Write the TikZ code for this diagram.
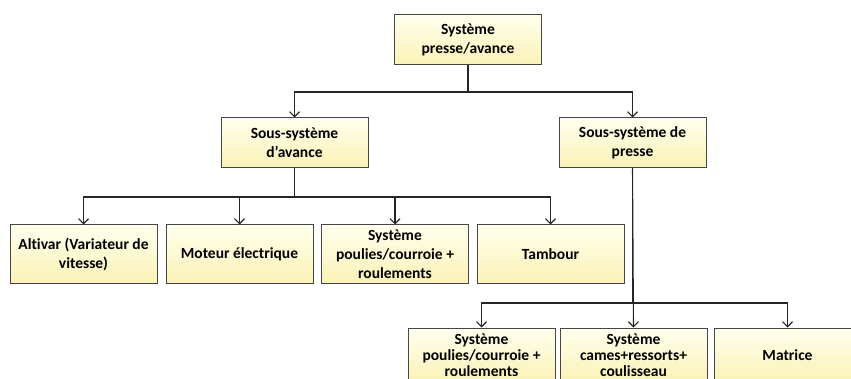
\documentclass[tikz,border=0pt]{standalone}
\usepackage{fontspec}
\setmainfont{Carlito}[Ligatures=NoCommon]
\usetikzlibrary{arrows.meta}
\definecolor{boxtop}{RGB}{255,255,238}
\definecolor{boxbot}{RGB}{250,242,180}
\definecolor{edgegray}{RGB}{70,70,70}
\tikzset{
  blk/.style={draw=edgegray,line width=1pt,top color=boxtop,bottom color=boxbot,
    minimum width=147pt,minimum height=50pt,align=center,inner sep=2pt,
    font=\fontsize{15.5}{19}\selectfont\bfseries},
  leaf/.style={blk,minimum height=59pt},
  lowleaf/.style={blk,minimum height=55pt,font=\fontsize{15.5}{16}\selectfont\bfseries},
  link/.style={-{Straight Barb[length=5pt,width=10pt]},line width=1.1pt,draw=black!85}
}
\begin{document}
\begin{tikzpicture}[x=1pt,y=-1pt]
\clip (0,0) rectangle (851,379);
\node[blk] (sys) at (468,40) {Système\\ presse/avance};
\node[blk] (av) at (294.5,143) {Sous-système\\ d’avance};
\node[blk] (pr) at (632.5,143) {Sous-système de\\ presse};
\node[leaf] (alt) at (83.5,254.5) {Altivar (Variateur de\\ vitesse)};
\node[leaf] (mot) at (239.5,254.5) {Moteur électrique};
\node[leaf] (pou) at (395,254.5) {Système\\ poulies/courroie +\\ roulements};
\node[leaf] (tam) at (550.5,254.5) {Tambour};
\node[lowleaf] (pp) at (481.5,355.5) {Système\\ poulies/courroie +\\ roulements};
\node[lowleaf] (cam) at (633.5,355.5) {Système\\ cames+ressorts+\\ coulisseau};
\node[lowleaf] (mat) at (787.5,355.5) {Matrice};
\coordinate (bus0) at (0,92);
\coordinate (bus1) at (0,197);
\coordinate (bus2) at (0,303);
% niveau 1
\draw[link] (sys.south) -- (sys.south |- bus0) -| (av.north);
\draw[link] (sys.south) -- (sys.south |- bus0) -| (pr.north);
% sous-systeme d'avance
\draw[link] (av.south) -- (av.south |- bus1) -| (alt.north);
\draw[link] (av.south) -- (av.south |- bus1) -| (mot.north);
\draw[link] (av.south) -- (av.south |- bus1) -| (pou.north);
\draw[link] (av.south) -- (av.south |- bus1) -| (tam.north);
% sous-systeme de presse
\draw[link] (pr.south) -- (pr.south |- bus2) -| (pp.north);
\draw[link] (pr.south) -- (cam.north);
\draw[link] (pr.south) -- (pr.south |- bus2) -| (mat.north);
\end{tikzpicture}
\end{document}
